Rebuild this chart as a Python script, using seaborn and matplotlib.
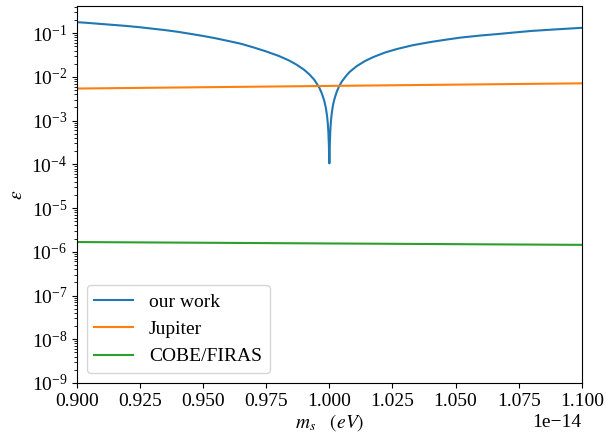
import matplotlib
matplotlib.use("Agg")
import matplotlib.pyplot as plt
from matplotlib.ticker import MultipleLocator
import seaborn as sns
import pandas as pd

# values, x in units of 1e-14 eV
work_x = [0.900, 0.905, 0.910, 0.915, 0.920, 0.925, 0.930, 0.935, 0.940, 0.945,
          0.950, 0.955, 0.960, 0.965, 0.970, 0.975, 0.980, 0.984, 0.987, 0.990,
          0.992, 0.994, 0.996, 0.997, 0.998, 0.9986, 0.9991, 0.9994, 0.9996, 0.9998,
          1.0000, 1.0002, 1.0004, 1.0006, 1.0009, 1.0014, 1.002, 1.003, 1.004, 1.005,
          1.0068, 1.008, 1.0108, 1.014, 1.0174, 1.022, 1.0266, 1.033, 1.040, 1.046,
          1.052, 1.060, 1.067, 1.073, 1.080, 1.090, 1.100]
work_y = [0.178, 0.170, 0.161, 0.153, 0.145, 0.136, 0.126, 0.117, 0.107, 0.096,
          0.086, 0.076, 0.066, 0.057, 0.047, 0.038, 0.030, 0.0237, 0.019, 0.0145,
          0.0115, 0.0086, 0.0057, 0.0042, 0.0028, 0.00196, 0.00126, 0.00084, 0.00056, 0.00028,
          0.000105, 0.00031, 0.00062, 0.00093, 0.0014, 0.0022, 0.0031, 0.0047, 0.0063, 0.0079,
          0.0108, 0.0129, 0.0175, 0.0228, 0.0283, 0.0359, 0.0430, 0.0528, 0.0624, 0.0705,
          0.0790, 0.0882, 0.0955, 0.1030, 0.1120, 0.1220, 0.1320]

jupiter_x = [0.900, 1.000, 1.100]
jupiter_y = [5.4e-3, 6.2e-3, 7.1e-3]

firas_x = [0.900, 1.000, 1.100]
firas_y = [1.67e-6, 1.55e-6, 1.44e-6]

labels = ["our work", "Jupiter", "COBE/FIRAS"]

frames = []
for lab, xs, ys in zip(labels, [work_x, jupiter_x, firas_x], [work_y, jupiter_y, firas_y]):
    frames.append(pd.DataFrame({"m": [v * 1e-14 for v in xs], "eps": ys, "source": lab}))
df = pd.concat(frames, ignore_index=True)

plt.rcParams["font.family"] = ["Liberation Serif", "DejaVu Serif"]
plt.rcParams["mathtext.fontset"] = "stix"
plt.rcParams["font.size"] = 14

fig = plt.figure(figsize=(6.06, 4.33), dpi=100)
ax = fig.add_axes([0.127, 0.1155, 0.833, 0.871])

sns.lineplot(data=df, x="m", y="eps", hue="source", hue_order=labels,
             palette=["#1f77b4", "#ff7f0e", "#2ca02c"], linewidth=1.5,
             estimator=None, sort=True, ax=ax)

ax.set_yscale("log")
ax.set_xlim(0.9e-14, 1.1e-14)
ax.set_ylim(1e-9, 0.42)
ax.xaxis.set_major_locator(MultipleLocator(0.025e-14))
ax.set_xlabel(r"$m_s$   $(eV)$", labelpad=2)
ax.set_ylabel(r"$\varepsilon$")
ax.legend(loc="lower left", title=None)

fig.savefig("out.png", dpi=100)
